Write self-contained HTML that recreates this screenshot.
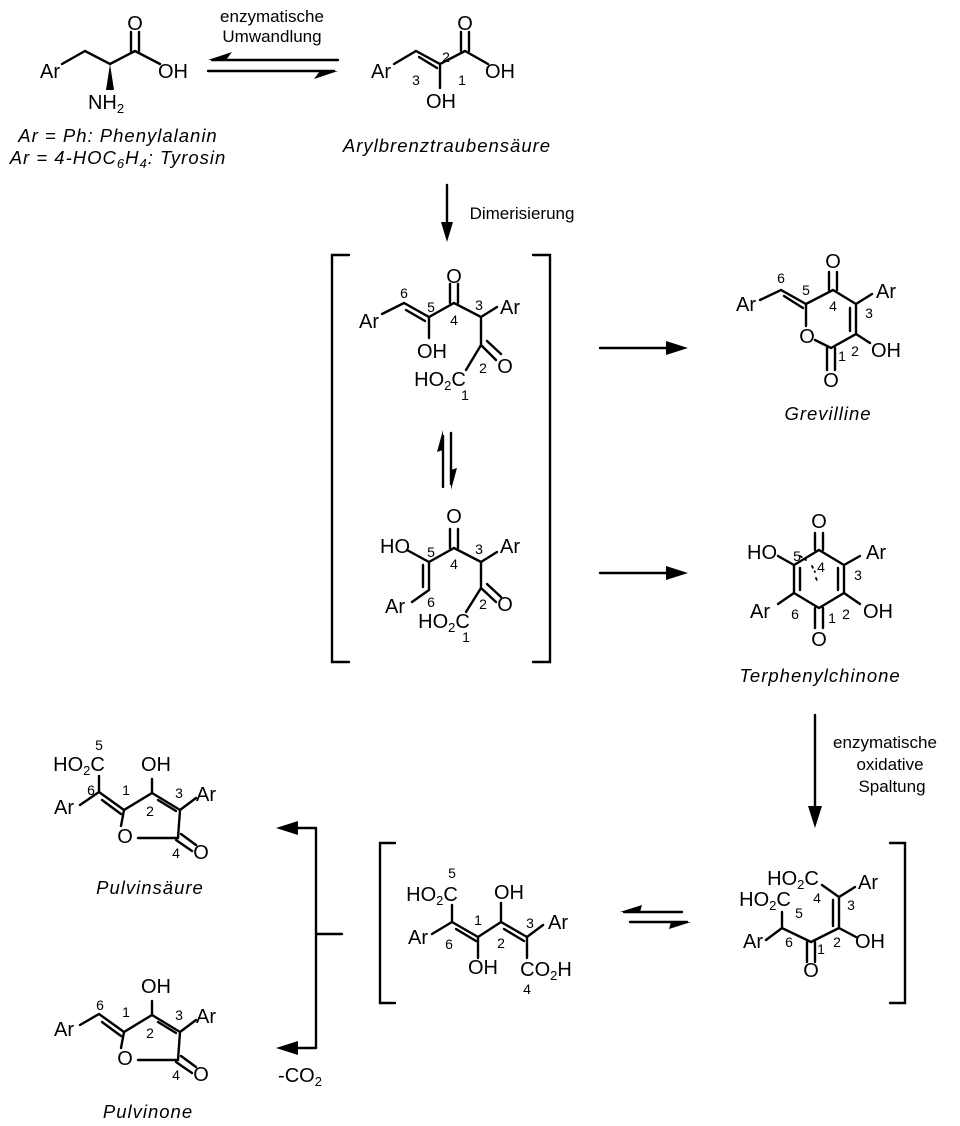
<!DOCTYPE html>
<html><head><meta charset="utf-8"><style>
body{margin:0;background:#fff}
svg{display:block}
text{font-family:"Liberation Sans",sans-serif;fill:#000}
.a{font-size:20px;text-anchor:middle;dominant-baseline:central}
.n{font-size:14px;text-anchor:middle;dominant-baseline:central}
.s{font-size:13px}
.i{font-size:18.5px;font-style:italic;text-anchor:middle;letter-spacing:1px}
.t{font-size:17px;text-anchor:middle}
</style></head><body>
<svg width="960" height="1126" viewBox="0 0 960 1126" xmlns="http://www.w3.org/2000/svg">
<g stroke="#000" stroke-width="2.4" fill="none" stroke-linecap="round">
<!-- Phe -->
<path d="M62,64 L85,51 L110,64 L135,51 L160,64"/>
<path d="M131,51 V32 M139,51 V32"/>
<!-- Aryl pyruvic -->
<path d="M394,64 L416,51 L440,64 L465,51 L488,64 M440,64 V88"/>
<path d="M419,57 L437,68"/>
<path d="M461,51 V32 M469,51 V32"/>
<!-- eq arrows top -->
<path d="M338,60 H212 M208,71 H334"/>
<!-- down arrow dimerization -->
<path d="M447,185 V230"/>
<!-- brackets -->
<path d="M349,255 H332 V662 H349 M533,255 H550 V662 H533"/>
<!-- mol1 -->
<path d="M382,314 L404,303 L429,317 L454,303 L481,317 L497,307 M429,317 V338 M481,317 V345 L466,370"/>
<path d="M406,310 L425,321"/>
<path d="M450,303 V284 M458,303 V284"/>
<path d="M481,345 L496,360 M487,341 L501,354"/>
<!-- eq arrows middle -->
<path d="M443,436 V487 M451,433 V484"/>
<!-- mol2 -->
<path d="M407,550 L429,562 L454,548 L481,562 L497,552 M429,562 V590 L412,602 M481,562 V588 L466,612"/>
<path d="M423,565 V587"/>
<path d="M450,548 V529 M458,548 V529"/>
<path d="M481,588 L496,602 M487,584 L501,597"/>
<!-- arrows to products -->
<path d="M600,348 H670 M600,573 H670"/>
<!-- grevilline -->
<path d="M760,300 L781,290 L806,304 L833,290 L856,304 V334 L831,348 L815,340 M806,304 V326 M856,304 L872,294 M856,334 L870,343"/>
<path d="M784,296 L803,308"/>
<path d="M850,308 V331"/>
<path d="M829,290 V272 M837,290 V272"/>
<path d="M827,348 V370 M835,348 V370"/>
<!-- terphenyl -->
<path d="M819,550 L844,565 V593 L819,608 L794,593 V565 L819,550 M794,565 L778,556 M844,565 L860,556 M844,593 L860,604 M794,593 L778,604"/>
<path d="M800,568 V590 M838,568 V590"/>
<path d="M815,550 V533 M823,550 V533"/>
<path d="M815,608 V628 M823,608 V628"/>
<path d="M800,556 L806,560 M812,566 L815,572 M816,578 L818,583" stroke-width="1.8" stroke-dasharray="2 4"/>
<!-- oxid arrow -->
<path d="M815,715 V810"/>
<!-- lower brackets -->
<path d="M395,843 H380 V1003 H395 M890,843 H905 V1003 H890"/>
<!-- mid lower mol -->
<path d="M452,905 V922 L432,934 M452,922 L478,937 L501,922 L527,937 L543,925 M478,937 V958 M501,922 V903 M527,937 V958"/>
<path d="M456,929 L476,941"/>
<path d="M504,929 L524,941"/>
<!-- eq lower -->
<path d="M624,912 H682 M630,922 H687"/>
<!-- right lower mol -->
<path d="M822,885 L839,897 L855,887 M839,897 V928 L856,937 M839,928 L811,942 L782,928 L766,940 M782,928 V912"/>
<path d="M833,900 V926"/>
<path d="M807,942 V962 M815,942 V962"/>
<!-- fork -->
<path d="M316,828 V1048 M316,828 H290 M316,1048 H290 M316,934 H342"/>
<!-- pulvinsäure -->
<path d="M99,776 V792 L124,810 L152,793 L180,810 L178,838 L138,838 M124,810 L121,826 M99,792 L80,805 M152,793 V779 M180,810 L196,798"/>
<path d="M102,800 L121,814"/>
<path d="M158,800 L176,811"/>
<path d="M176,840 L192,851 M181,834 L196,845"/>
<!-- pulvinone -->
<path d="M80,1025 L99,1014 L124,1032 L152,1015 L180,1032 L178,1060 L138,1060 M124,1032 L121,1048 M152,1015 V1001 M180,1032 L196,1020"/>
<path d="M102,1022 L121,1036"/>
<path d="M158,1022 L176,1033"/>
<path d="M176,1062 L192,1073 M181,1056 L196,1067"/>
</g>
<g fill="#000">
<polygon points="110,64 106,90 114,90"/>
<polygon points="208,60 232,52 226,60"/>
<polygon points="338,71 314,79 320,71"/>
<polygon points="447,242 441,222 453,222"/>
<polygon points="443,430 437,452 443,450"/>
<polygon points="451,490 457,468 451,470"/>
<polygon points="688,348 666,341 666,355"/>
<polygon points="688,573 666,566 666,580"/>
<polygon points="815,828 808,806 822,806"/>
<polygon points="620,912 642,905 640,912"/>
<polygon points="691,922 669,929 671,922"/>
<polygon points="276,828 298,821 298,835"/>
<polygon points="276,1048 298,1041 298,1055"/>
</g>
<!-- texts -->
<text class="a" x="50" y="72">Ar</text>
<text class="a" x="135" y="24">O</text>
<text class="a" x="173" y="72">OH</text>
<text class="a" x="106" y="103">NH<tspan class="s" dy="5">2</tspan></text>
<text class="i" x="118" y="142">Ar = Ph: Phenylalanin</text>
<text class="i" x="118" y="164">Ar = 4-HOC<tspan font-size="13" dy="4">6</tspan><tspan dy="-4">H</tspan><tspan font-size="13" dy="4">4</tspan><tspan dy="-4">: Tyrosin</tspan></text>
<text class="t" x="272" y="22">enzymatische</text>
<text class="t" x="272" y="42">Umwandlung</text>
<text class="a" x="381" y="72">Ar</text>
<text class="a" x="465" y="24">O</text>
<text class="a" x="500" y="72">OH</text>
<text class="a" x="441" y="102">OH</text>
<text class="n" x="446" y="57">2</text>
<text class="n" x="416" y="80">3</text>
<text class="n" x="462" y="80">1</text>
<text class="i" x="447" y="152">Arylbrenztraubensäure</text>
<text class="t" x="522" y="219">Dimerisierung</text>
<!-- mol1 -->
<text class="a" x="369" y="322">Ar</text>
<text class="n" x="404" y="293">6</text>
<text class="n" x="431" y="307">5</text>
<text class="a" x="454" y="277">O</text>
<text class="n" x="454" y="320">4</text>
<text class="n" x="479" y="305">3</text>
<text class="a" x="510" y="308">Ar</text>
<text class="a" x="432" y="352">OH</text>
<text class="n" x="483" y="368">2</text>
<text class="a" x="505" y="367">O</text>
<text class="a" x="440" y="380">HO<tspan class="s" dy="5">2</tspan><tspan dy="-5">C</tspan></text>
<text class="n" x="465" y="395">1</text>
<!-- mol2 -->
<text class="a" x="395" y="547">HO</text>
<text class="n" x="431" y="552">5</text>
<text class="a" x="454" y="517">O</text>
<text class="n" x="454" y="564">4</text>
<text class="n" x="479" y="549">3</text>
<text class="a" x="510" y="547">Ar</text>
<text class="a" x="395" y="607">Ar</text>
<text class="n" x="431" y="602">6</text>
<text class="n" x="483" y="604">2</text>
<text class="a" x="505" y="605">O</text>
<text class="a" x="444" y="622">HO<tspan class="s" dy="5">2</tspan><tspan dy="-5">C</tspan></text>
<text class="n" x="466" y="637">1</text>
<!-- grevilline -->
<text class="a" x="746" y="305">Ar</text>
<text class="n" x="781" y="278">6</text>
<text class="n" x="806" y="290">5</text>
<text class="a" x="833" y="262">O</text>
<text class="n" x="833" y="306">4</text>
<text class="a" x="886" y="292">Ar</text>
<text class="n" x="869" y="313">3</text>
<text class="a" x="807" y="337">O</text>
<text class="n" x="842" y="356">1</text>
<text class="n" x="855" y="351">2</text>
<text class="a" x="886" y="351">OH</text>
<text class="a" x="831" y="381">O</text>
<text class="i" x="828" y="420">Grevilline</text>
<!-- terphenyl -->
<text class="a" x="819" y="522">O</text>
<text class="a" x="762" y="553">HO</text>
<text class="n" x="797" y="556">5</text>
<text class="n" x="821" y="567">4</text>
<text class="a" x="876" y="553">Ar</text>
<text class="n" x="858" y="575">3</text>
<text class="n" x="795" y="614">6</text>
<text class="a" x="760" y="612">Ar</text>
<text class="n" x="832" y="618">1</text>
<text class="n" x="846" y="614">2</text>
<text class="a" x="878" y="612">OH</text>
<text class="a" x="819" y="640">O</text>
<text class="i" x="820" y="682">Terphenylchinone</text>
<text class="t" x="885" y="748">enzymatische</text>
<text class="t" x="890" y="770">oxidative</text>
<text class="t" x="892" y="792">Spaltung</text>
<!-- lower mid -->
<text class="n" x="452" y="873">5</text>
<text class="a" x="432" y="895">HO<tspan class="s" dy="5">2</tspan><tspan dy="-5">C</tspan></text>
<text class="a" x="509" y="893">OH</text>
<text class="a" x="418" y="938">Ar</text>
<text class="n" x="449" y="944">6</text>
<text class="n" x="478" y="920">1</text>
<text class="n" x="501" y="943">2</text>
<text class="n" x="530" y="923">3</text>
<text class="a" x="558" y="923">Ar</text>
<text class="a" x="483" y="968">OH</text>
<text class="a" x="546" y="970">CO<tspan class="s" dy="5">2</tspan><tspan dy="-5">H</tspan></text>
<text class="n" x="527" y="989">4</text>
<!-- lower right -->
<text class="a" x="793" y="879">HO<tspan class="s" dy="5">2</tspan><tspan dy="-5">C</tspan></text>
<text class="a" x="765" y="900">HO<tspan class="s" dy="5">2</tspan><tspan dy="-5">C</tspan></text>
<text class="n" x="817" y="898">4</text>
<text class="a" x="868" y="883">Ar</text>
<text class="n" x="851" y="905">3</text>
<text class="n" x="799" y="913">5</text>
<text class="a" x="753" y="942">Ar</text>
<text class="n" x="789" y="942">6</text>
<text class="n" x="821" y="949">1</text>
<text class="n" x="837" y="942">2</text>
<text class="a" x="870" y="942">OH</text>
<text class="a" x="811" y="971">O</text>
<!-- pulvinsäure -->
<text class="n" x="99" y="745">5</text>
<text class="a" x="79" y="765">HO<tspan class="s" dy="5">2</tspan><tspan dy="-5">C</tspan></text>
<text class="a" x="156" y="765">OH</text>
<text class="n" x="91" y="790">6</text>
<text class="n" x="126" y="790">1</text>
<text class="n" x="150" y="811">2</text>
<text class="n" x="179" y="793">3</text>
<text class="a" x="206" y="795">Ar</text>
<text class="a" x="64" y="808">Ar</text>
<text class="a" x="125" y="837">O</text>
<text class="n" x="176" y="853">4</text>
<text class="a" x="201" y="853">O</text>
<text class="i" x="150" y="894">Pulvinsäure</text>
<!-- pulvinone -->
<text class="a" x="156" y="987">OH</text>
<text class="n" x="100" y="1005">6</text>
<text class="n" x="126" y="1012">1</text>
<text class="n" x="150" y="1033">2</text>
<text class="n" x="179" y="1015">3</text>
<text class="a" x="206" y="1017">Ar</text>
<text class="a" x="64" y="1030">Ar</text>
<text class="a" x="125" y="1059">O</text>
<text class="n" x="176" y="1075">4</text>
<text class="a" x="201" y="1075">O</text>
<text class="i" x="148" y="1118">Pulvinone</text>
<text class="a" x="300" y="1076">-CO<tspan class="s" dy="5">2</tspan></text>
</svg>
</body></html>
